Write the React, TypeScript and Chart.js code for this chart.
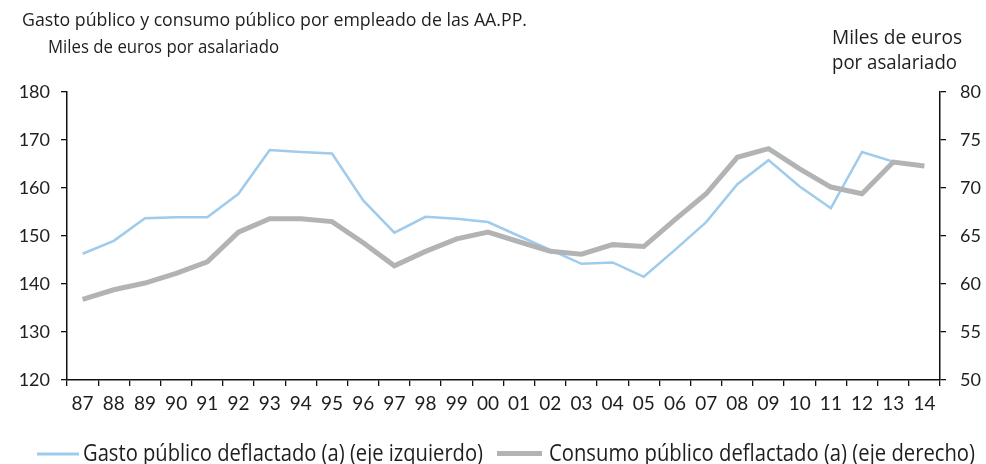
import React, { useEffect, useRef } from "react";
import { Chart, registerables } from "chart.js";

Chart.register(...registerables);

const years = ["87","88","89","90","91","92","93","94","95","96","97","98","99","00","01","02","03","04","05","06","07","08","09","10","11","12","13","14"];
const gastoPublico = [146.3,149.0,153.7,153.9,153.9,158.8,167.9,167.5,167.2,157.4,150.7,154.0,153.6,152.9,150.0,147.1,144.2,144.5,141.5,147.1,152.9,160.8,165.8,160.3,155.8,167.5,165.5,null];
const consumoPublico = [58.4,59.4,60.1,61.1,62.3,65.4,66.8,66.8,66.5,64.3,61.9,63.4,64.7,65.4,64.4,63.4,63.1,64.1,63.9,66.7,69.4,73.2,74.1,72.0,70.1,69.4,72.7,72.3];

const title = "Gasto público y consumo público por empleado de las AA.PP.";
const leftUnit = "Miles de euros por asalariado";
const rightUnit1 = "Miles de euros";
const rightUnit2 = "por asalariado";
const legend1 = "Gasto público deflactado (a) (eje izquierdo)";
const legend2 = "Consumo público deflactado (a) (eje derecho)";

const BLUE = "#9fcbec";
const GRAY = "#b2b3b5";
const TEXT = "#1e1e1e";
const TEXT_FONT = "'Open Sans'";
const NUM_FONT = "Lato";

function fitText(ctx: CanvasRenderingContext2D, text: string, x: number, y: number, size: number, width: number) {
  ctx.save();
  ctx.font = `${size}px ${TEXT_FONT}`;
  const w = ctx.measureText(text).width;
  const s = width / w;
  ctx.translate(x, y);
  ctx.scale(s, 1);
  ctx.textBaseline = "alphabetic";
  ctx.textAlign = "left";
  ctx.fillStyle = TEXT;
  ctx.fillText(text, 0, 0);
  ctx.restore();
}

const textPlugin = {
  id: "textPlugin",
  afterDraw(chart: any) {
    const ctx = chart.ctx as CanvasRenderingContext2D;
    fitText(ctx, title, 22, 26, 19, 505);
    fitText(ctx, leftUnit, 48, 53, 19, 231);
    fitText(ctx, rightUnit1, 832, 44, 20, 130);
    fitText(ctx, rightUnit2, 832, 69, 20, 125);
    // legend
    ctx.save();
    ctx.lineCap = "butt";
    ctx.strokeStyle = BLUE;
    ctx.lineWidth = 3;
    ctx.beginPath();
    ctx.moveTo(37, 454);
    ctx.lineTo(79, 454);
    ctx.stroke();
    ctx.strokeStyle = GRAY;
    ctx.lineWidth = 5;
    ctx.beginPath();
    ctx.moveTo(497, 453.5);
    ctx.lineTo(542, 453.5);
    ctx.stroke();
    ctx.restore();
    fitText(ctx, legend1, 83, 460.5, 23, 400);
    fitText(ctx, legend2, 549, 460.5, 23, 426);
  },
};

export default function App() {
  const ref = useRef<HTMLCanvasElement>(null);
  useEffect(() => {
    if (!ref.current) return;
    const chart = new Chart(ref.current, {
      type: "line",
      data: {
        labels: years,
        datasets: [
          {
            label: legend1,
            data: gastoPublico,
            yAxisID: "y",
            borderColor: BLUE,
            backgroundColor: BLUE,
            borderWidth: 2.5,
            pointRadius: 0,
            tension: 0,
            order: 1,
          },
          {
            label: legend2,
            data: consumoPublico,
            yAxisID: "y1",
            borderColor: GRAY,
            backgroundColor: GRAY,
            borderWidth: 5,
            pointRadius: 0,
            tension: 0,
            order: 0,
          },
        ],
      },
      options: {
        responsive: false,
        animation: false,
        layout: { padding: { top: 92, bottom: 0, left: 0, right: 0 } },
        plugins: { legend: { display: false }, tooltip: { enabled: false }, title: { display: false } },
        scales: {
          x: {
            type: "category",
            offset: true,
            grid: { display: true, drawOnChartArea: false, drawTicks: true, tickLength: 6, color: "#111", offset: true, lineWidth: 1.3 },
            border: { display: true, color: "#111", width: 1.5 },
            ticks: { color: TEXT, font: { family: NUM_FONT, size: 19 }, padding: 6, maxRotation: 0, autoSkip: false },
            afterFit: (s: any) => { s.height = 84; },
          },
          y: {
            position: "left",
            min: 120,
            max: 180,
            ticks: { stepSize: 10, color: TEXT, font: { family: NUM_FONT, size: 18 }, padding: 11 },
            grid: { display: true, drawOnChartArea: false, drawTicks: true, tickLength: 6, color: "#111", lineWidth: 1.3 },
            border: { display: true, color: "#111", width: 1.5 },
            afterFit: (s: any) => { s.width = 67; },
          },
          y1: {
            position: "right",
            min: 50,
            max: 80,
            ticks: { stepSize: 5, color: TEXT, font: { family: NUM_FONT, size: 18 }, padding: 14 },
            grid: { display: true, drawOnChartArea: false, drawTicks: true, tickLength: 6, color: "#111", lineWidth: 1.3 },
            border: { display: true, color: "#111", width: 1.5 },
            afterFit: (s: any) => { s.width = 46; },
          },
        },
      },
      plugins: [textPlugin],
    });
    return () => chart.destroy();
  }, []);
  return (
    <div style={{ position: "fixed", left: 0, top: 0, width: 986, height: 464, background: "#fff" }}>
      <canvas ref={ref} width={986} height={464} style={{ width: 986, height: 464, display: "block" }} />
    </div>
  );
}
